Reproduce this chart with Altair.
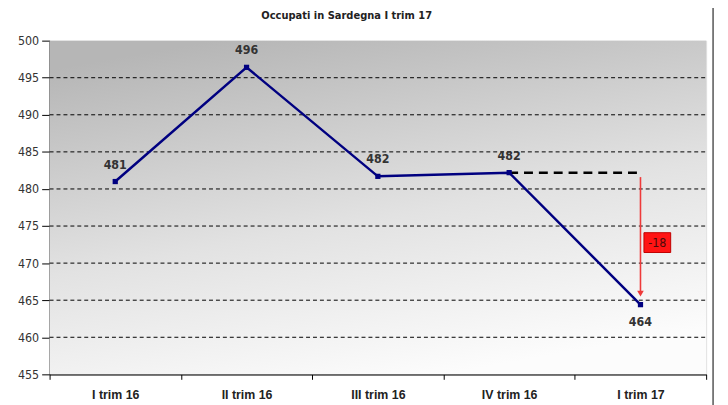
import altair as alt
import pandas as pd

title_text = "Occupati in Sardegna I trim 17"
categories = ["I trim 16", "II trim 16", "III trim 16", "IV trim 16", "I trim 17"]
values = [481.0, 496.4, 481.7, 482.2, 464.4]
label_pos = ["above", "above", "above", "above", "below"]
y_ticks = list(range(455, 505, 5))
grid_vals = y_ticks[1:-1]

W, H = 663, 337

df = pd.DataFrame({"cat": categories, "val": values, "pos": label_pos})

xscale = alt.Scale(type="band", paddingInner=0, paddingOuter=0, domain=categories)
yscale = alt.Scale(domain=[455, 500], zero=False, nice=False)

x_axis = alt.Axis(
    title=None, labelAngle=0, tickBand="extent", domainColor="black", tickColor="black",
    tickSize=5, labelPadding=9, labelFont="Liberation Sans", labelFontSize=12.5,
    labelFontWeight="bold", labelColor="#222222", grid=False, domainWidth=1.2,
)
y_axis = alt.Axis(
    title=None, values=y_ticks, domainColor="black", tickColor="black", tickSize=8,
    labelPadding=3, labelFont="DejaVu Sans Condensed", labelFontSize=12.5, labelColor="#333333",
    labelOverlap=False, grid=False, domainWidth=1.2,
)

def X():
    return alt.X("cat:N", sort=categories, scale=xscale, bandPosition=0.5, axis=x_axis, title=None)

def Y(field="val"):
    return alt.Y(f"{field}:Q", scale=yscale, axis=y_axis, title=None)

one = pd.DataFrame({"a": [0]})

bg = alt.Chart(one).mark_rect(
    color=alt.LinearGradient(
        gradient="linear", x1=0.25, y1=0, x2=0.6, y2=1,
        stops=[alt.GradientStop(color="#b6b6b6", offset=0),
               alt.GradientStop(color="#e2e2e2", offset=0.55),
               alt.GradientStop(color="#fcfcfc", offset=1)],
    )
).encode(x=alt.value(0), x2=alt.value(W), y=alt.value(0), y2=alt.value(H))

grid = alt.Chart(pd.DataFrame({"g": grid_vals})).mark_rule(
    color="black", strokeWidth=1, strokeDash=[4, 3]
).encode(y=Y("g"), x=alt.value(0), x2=alt.value(W))

base_axes = alt.Chart(df).mark_point(opacity=0).encode(x=X(), y=Y())

conn_df = pd.DataFrame({"cat": categories[3:5], "val": [values[3], values[3]]})
conn = alt.Chart(conn_df).mark_line(color="black", strokeWidth=2.5, strokeDash=[9, 6]).encode(
    x=X(), y=Y())

arrow_df = pd.DataFrame({"cat": [categories[4]], "y1": [values[3] - 0.6], "y2": [values[4] + 1.5]})
arrow = alt.Chart(arrow_df).mark_rule(color="#ee3a3a", strokeWidth=1.6).encode(
    x=X(), y=Y("y1"), y2="y2:Q")
head = alt.Chart(arrow_df).mark_point(shape="triangle-down", filled=True, size=45, color="#ee3a3a", opacity=1).encode(
    x=X(), y=Y("y2"))

line = alt.Chart(df).mark_line(color="#000080", strokeWidth=2.5).encode(x=X(), y=Y())
pts = alt.Chart(df).mark_point(shape="square", filled=True, size=28, color="#000080", opacity=1).encode(x=X(), y=Y())

lab_style = dict(font="DejaVu Sans Condensed", fontSize=12.5, fontWeight="bold", color="#333333")
lab_above = alt.Chart(df).transform_filter("datum.pos == 'above'").mark_text(dy=-17, **lab_style).encode(
    x=X(), y=Y(), text=alt.Text("val:Q", format=".0f"))
lab_below = alt.Chart(df).transform_filter("datum.pos == 'below'").mark_text(dy=18, **lab_style).encode(
    x=X(), y=Y(), text=alt.Text("val:Q", format=".0f"))

diff_val = values[4] - values[3]
diff_df = pd.DataFrame({"cat": [categories[4]], "mid": [(values[3] + values[4]) / 2],
                        "label": [str(int(round(diff_val)))]})
box = alt.Chart(diff_df).mark_point(
    shape="M-1.35,-1L1.35,-1L1.35,1L-1.35,1Z", filled=True, size=400, fill="#ff1414",
    stroke="#c00000", strokeWidth=1, opacity=1, xOffset=17, yOffset=4,
).encode(x=X(), y=Y("mid"))
box_txt = alt.Chart(diff_df).mark_text(font="DejaVu Sans Condensed", fontSize=12.5, color="#4a0a0a", xOffset=17, yOffset=4.5).encode(
    x=X(), y=Y("mid"), text="label:N")

title = alt.Chart(one).mark_text(text=title_text, font="DejaVu Sans", fontSize=10, fontWeight="bold",
                                 color="#222222", baseline="top").encode(
    x=alt.value(300), y=alt.value(-30))

frame_l = alt.Chart(one).mark_rule(color="#555555", strokeWidth=1.5).encode(
    x=alt.value(-46), y=alt.value(-45), y2=alt.value(H + 40))
frame_r = alt.Chart(one).mark_rule(color="#555555", strokeWidth=1.5).encode(
    x=alt.value(670), y=alt.value(-45), y2=alt.value(H + 40))

chart = alt.layer(
    bg, grid, base_axes, conn, arrow, head, line, pts, lab_above, lab_below, box, box_txt, title, frame_l, frame_r
).properties(
    width=W, height=H,
    padding={"left": 42, "top": 31, "right": 14, "bottom": 30},
    autosize=alt.AutoSizeParams(type="none"),
).configure_view(stroke="#8c8c8c", strokeWidth=1).configure(background="white")

chart.save("out.html", embed_options={"renderer": "svg", "actions": False})
